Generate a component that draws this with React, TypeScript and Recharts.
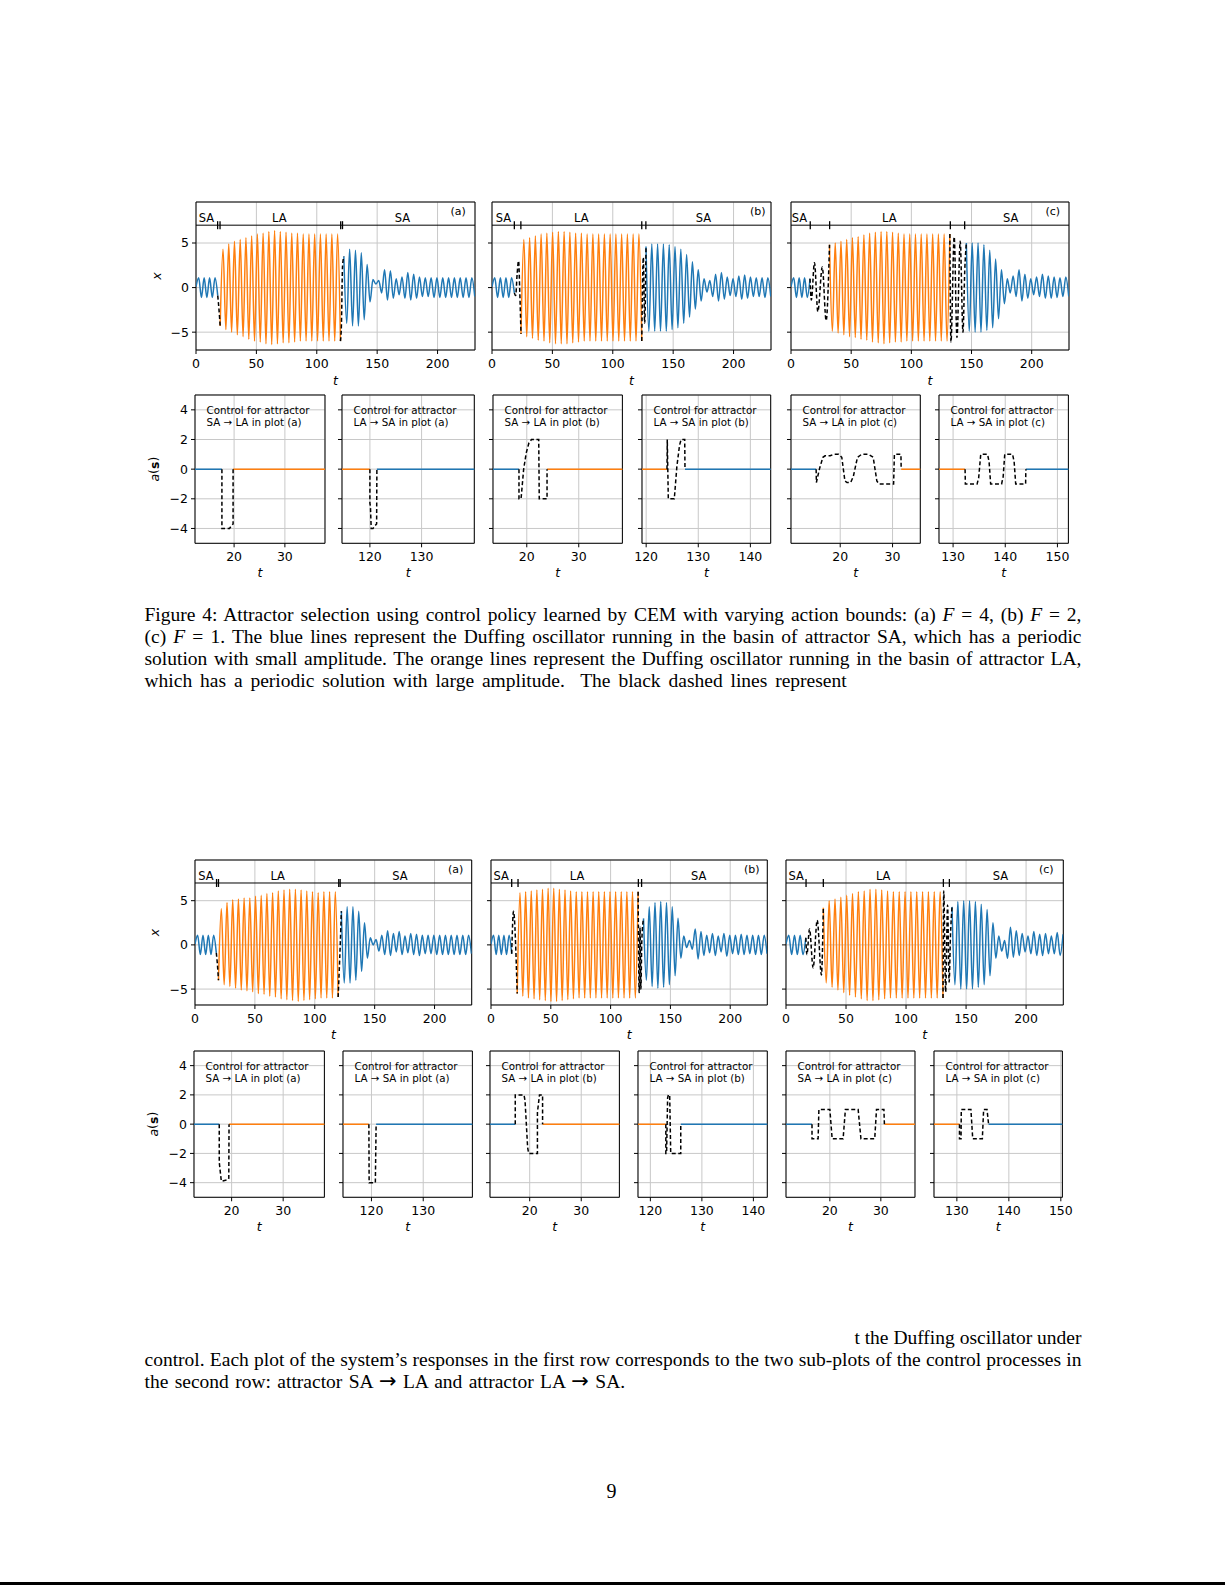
import React from "react";
import { LineChart, Line, XAxis, YAxis, CartesianGrid, ReferenceLine, ReferenceArea, ReferenceDot } from "recharts";

const BLUE = "#1f77b4";
const ORANGE = "#ff7f0e";
const GRID = "#c8c8c8";
const SANS = "DejaVu Sans, Verdana, sans-serif";
const SERIF = "Liberation Serif, Times New Roman, serif";

// ticks
const tTicks = [0, 50, 100, 150, 200];
const xTicks = [-5, 0, 5];
const aTicks = [-4, -2, 0, 2, 4];

// ---------- upper figure, response plots ----------
// span: blue start/end, orange start/end, blue start/end (time)
const f1aSpan = [0, 18.0, 20.0, 119.6, 122.4, 230.8];
const f1aBlue1 = [0.1, 1.1, -1.1, 1.1, -1.1, 1.1, -1.1, 1.1, -0.9];
const f1aD1t = [19.0];
const f1aD1x = [-2.4];
const f1aOrange = [-4.3, 4.3, -4.7, 4.9, -5.0, 5.2, -5.3, 5.4, -5.5, 5.6, -5.8, 5.8, -6.0, 6.0, -6.1, 6.1, -6.3, 6.3, -6.4, 6.4, -6.3, 6.3, -6.2, 6.2, -6.2, 6.1, -6.1, 6.1, -6.0, 6.0, -6.0, 6.0, -6.0, 6.0, -6.0, 6.0, -6.0, 6.0, -6.0, 6.0, -6.0, 6.0, -6.0];
const f1aD2t = [120.4, 121.3];
const f1aD2x = [-4.2, 2.3];
const f1aBlue2 = [3.5, -4.0, 4.3, -4.3, 4.2, -4.3, 3.9, -3.6, 2.6, -1.6, 0.9, 0.4, 0.8, -0.6, 2.0, -1.4, 1.9, -1.2, 1.0, -0.8, 1.2, -1.2, 1.7, -1.4, 1.5, -1.2, 1.2, -1.0, 1.1, -1.0, 1.1, -1.1, 1.1, -1.1, 1.1, -1.1, 1.1, -1.1, 1.1, -1.1, 1.1, -1.1, 1.1, -1.1, 1.1, -1.0];
const f1aMarks = [17.9, 19.9, 119.8, 121.3];
const f1aLabels = [8.7, 69, 171, 217];

const f1bSpan = [0, 18.5, 24.0, 124.0, 127.5, 230.8];
const f1bBlue1 = [0.1, 1.1, -1.1, 1.1, -1.1, 1.1, -1.1, 1.1, -0.6];
const f1bD1t = [19.6, 20.8, 22.0, 23.0];
const f1bD1x = [-0.9, 1.5, 3.0, -0.5];
const f1bOrange = [-5.2, 5.4, -5.5, 5.6, -5.7, 5.8, -5.9, 6.0, -6.0, 6.1, -6.2, 6.2, -6.3, 6.3, -6.3, 6.3, -6.3, 6.2, -6.2, 6.1, -6.1, 6.1, -6.0, 6.0, -6.0, 6.0, -6.0, 6.0, -6.0, 6.0, -6.0, 6.0, -6.0, 6.0, -6.0, 6.0, -6.0, 6.0, -6.0, 6.0, -6.0, 6.0, -6.0];
const f1bD2t = [125.3, 126.4];
const f1bD2x = [3.4, -4.0];
const f1bBlue2 = [4.6, -4.9, 4.9, -4.9, 4.9, -4.9, 4.9, -4.9, 4.8, -4.7, 4.6, -4.5, 4.3, -4.0, 3.7, -3.3, 2.9, -2.4, 2.0, -1.5, 1.0, -0.5, 0.8, -1.0, 1.5, -1.5, 1.7, -1.3, 1.2, -0.9, 1.0, -1.0, 1.3, -1.3, 1.4, -1.2, 1.2, -1.0, 1.1, -1.0, 1.1, -1.1, 1.1, -1.0];
const f1bMarks = [18.5, 23.9, 124.0, 127.4];
const f1bLabels = [9.4, 74, 175, 220];

const f1cSpan = [0, 15.8, 32.0, 132.0, 145.7, 230.8];
const f1cBlue1 = [0.1, 1.1, -1.1, 1.1, -1.1, 1.1, -1.1, 1.0];
const f1cD1t = [16.9, 19.5, 22.3, 26.0, 29.2];
const f1cD1x = [-1.4, 2.8, -2.7, 2.3, -3.7];
const f1cOrange = [4.8, -4.9, 5.0, -5.1, 5.2, -5.3, 5.4, -5.5, 5.6, -5.6, 5.7, -5.8, 5.9, -5.9, 6.1, -6.1, 6.2, -6.2, 6.3, -6.3, 6.3, -6.2, 6.2, -6.1, 6.1, -6.1, 6.0, -6.0, 6.0, -6.0, 6.0, -6.0, 6.0, -6.0, 6.0, -6.0, 6.0, -6.0, 6.0, -6.0, 6.0, -6.0, 6.0];
const f1cD2t = [132.9, 135.6, 137.9, 140.6, 142.9, 144.4];
const f1cD2x = [-6.1, 5.7, -5.6, 5.2, -5.0, 2.0];
const f1cBlue2 = [5.0, -4.9, 5.0, -5.0, 5.0, -5.0, 4.8, -4.8, 4.2, -4.5, 3.2, -3.5, 2.0, -1.8, 1.0, -0.6, 1.3, -1.0, 2.0, -1.5, 1.5, -1.2, 1.0, -0.8, 1.2, -1.0, 1.5, -1.2, 1.3, -1.2, 1.2, -1.1, 1.1, -1.0, 1.2, -1.0];
const f1cMarks = [16.0, 32.1, 132.4, 144.3];
const f1cLabels = [7, 81.7, 182.6, 217.5];

// ---------- lower figure, response plots ----------
const f2aSpan = [0, 17.8, 19.6, 119.5, 122.2, 230.8];
const f2aBlue1 = [0.1, 1.1, -1.1, 1.1, -1.1, 1.1, -1.1, 1.1, -0.9];
const f2aD1t = [18.7];
const f2aD1x = [-2.2];
const f2aOrange = [-4.0, 4.1, -4.5, 4.8, -4.7, 5.1, -4.9, 5.2, -5.1, 5.3, -5.2, 5.3, -5.3, 5.5, -5.5, 5.6, -5.6, 5.8, -5.8, 5.9, -5.9, 6.1, -6.1, 6.2, -6.2, 6.3, -6.3, 6.3, -6.4, 6.2, -6.3, 6.1, -6.2, 6.0, -6.1, 5.9, -6.0, 6.0, -6.0, 6.0, -6.0, 6.0, -5.9];
const f2aD2t = [120.4, 121.3];
const f2aD2x = [-3.0, 0.2];
const f2aBlue2 = [3.8, -4.3, 4.3, -4.3, 4.3, -4.0, 3.8, -3.0, 2.5, -1.5, 0.8, 0.0, 0.6, -0.7, 1.1, -1.1, 1.6, -1.2, 1.3, -0.8, 1.5, -1.1, 1.0, -0.9, 1.3, -1.1, 1.2, -1.2, 1.1, -1.0, 1.1, -1.0, 1.1, -1.1, 1.1, -1.1, 1.1, -1.1, 1.1, -1.1, 1.1, -1.1, 1.1, -1.1, 1.1, -1.0];
const f2aMarks = [18.0, 19.6, 120.0, 121.2];
const f2aLabels = [9.2, 69, 171, 217.6];

const f2bSpan = [0, 17.3, 21.9, 123.0, 127.5, 230.8];
const f2bBlue1 = [0.1, 1.1, -1.1, 1.1, -1.1, 1.1, -1.1, 1.1, -1.0];
const f2bD1t = [18.8];
const f2bD1x = [3.8];
const f2bOrange = [-5.5, 5.9, -5.8, 6.0, -6.0, 6.1, -6.1, 6.2, -6.2, 6.3, -6.3, 6.4, -6.4, 6.4, -6.4, 6.3, -6.3, 6.2, -6.2, 6.1, -6.1, 6.0, -6.0, 6.0, -6.0, 6.0, -6.0, 6.0, -6.0, 6.0, -6.0, 6.0, -6.0, 6.0, -6.0, 6.0, -6.0, 6.0, -6.0, 6.0, -6.0, 6.0, -6.0, 6.0];
const f2bD2t = [123.9, 124.6, 125.3, 126.1];
const f2bD2x = [-5.4, 2.0, -5.0, 0.5];
const f2bBlue2 = [3.0, -4.0, 4.3, -4.7, 4.8, -4.9, 4.9, -4.8, 4.8, -4.5, 4.3, -3.5, 3.0, -1.5, 1.0, -0.3, 0.5, -0.5, 1.8, -1.6, 1.5, -1.2, 1.1, -0.9, 1.3, -1.2, 1.0, -0.8, 1.3, -1.3, 1.1, -1.0, 1.1, -1.1, 1.2, -1.1, 1.1, -1.0, 1.1, -1.1, 1.1, -1.1, 1.1, -1.0];
const f2bMarks = [17.3, 22.6, 123.2, 125.9];
const f2bLabels = [8.6, 72, 173.6, 218];

const f2cSpan = [0, 16.5, 31.1, 130.8, 138.3, 230.8];
const f2cBlue1 = [0.1, 1.1, -1.1, 1.1, -1.1, 1.1, -1.1, 0.8];
const f2cD1t = [17.4, 19.6, 22.6, 26.0, 29.5];
const f2cD1x = [-1.1, 1.8, -2.6, 2.8, -3.4];
const f2cOrange = [4.2, -4.3, 5.0, -4.8, 5.2, -5.1, 5.4, -5.4, 5.6, -5.7, 5.8, -5.9, 6.0, -6.1, 6.1, -6.3, 6.3, -6.3, 6.3, -6.2, 6.2, -6.1, 6.1, -6.0, 6.0, -6.0, 6.0, -6.0, 6.0, -6.0, 6.0, -6.0, 6.0, -6.0, 6.0, -6.0, 6.0, -6.0, 6.0, -6.0, 6.0, -6.0];
const f2cD2t = [131.4, 133.0, 134.6, 135.9, 137.0];
const f2cD2x = [6.1, -5.3, 4.5, -4.2, 1.0];
const f2cBlue2 = [4.3, -4.5, 4.9, -5.0, 5.0, -5.0, 5.0, -5.0, 4.9, -4.8, 4.6, -4.5, 4.0, -3.5, 2.5, -1.5, 1.0, -0.7, 0.5, -1.5, 2.0, -1.4, 1.6, -1.2, 1.3, -0.8, 1.0, -1.0, 1.5, -1.2, 1.2, -1.2, 1.3, -1.0, 1.0, -1.0, 1.4, -1.2, 1.2];
const f2cMarks = [16.7, 31.1, 131.1, 136.1];
const f2cLabels = [8.5, 81, 178.6, 216.8];

// ---------- control plots: time, action ----------
const c1a1T = [17.6, 17.6, 19.1, 19.5, 19.8, 19.8];
const c1a1A = [0, -4, -4, -3.8, -3.7, 0];
const c1a2T = [120.0, 120.0, 120.1, 120.25, 120.6, 121.0, 121.3, 121.35];
const c1a2A = [0, -2.3, -2.5, -4.0, -4.0, -3.8, -3.7, 0];
const c1b1T = [18.5, 18.5, 18.9, 19.4, 19.9, 20.4, 20.9, 22.3, 22.4, 23.9, 23.9];
const c1b1A = [0, -2, -2, 0, 1.1, 1.75, 2, 2, -2, -2, 0];
const c1b2T = [124.0, 124.05, 124.25, 125.4, 125.9, 126.4, 126.7, 127.4, 127.45];
const c1b2A = [0, 2, -2, -2, 0.2, 1.6, 2, 2, 0];
const c1c1T = [15.4, 15.45, 15.7, 16.1, 16.7, 17.1, 18.1, 18.7, 19.7, 20.3, 20.9, 21.3, 22.0, 22.5, 23.3, 24.1, 25.4, 26.3, 27.0, 27.4, 30.2, 30.35, 31.6, 31.65];
const c1c1A = [0, -0.9, -0.5, 0.1, 0.8, 0.9, 0.9, 1.0, 1.0, 0.8, -0.8, -0.9, -0.9, -0.5, 0.8, 1.0, 1.0, 0.8, -0.8, -1.0, -1.0, 1.0, 1.0, 0];
const c1c2T = [132.3, 132.35, 134.6, 134.9, 135.3, 136.6, 136.9, 137.2, 139.3, 139.6, 139.9, 141.4, 141.7, 142.0, 143.9, 143.95];
const c1c2A = [0, -1, -1, -0.6, 1, 1, 0.5, -1, -1, -0.5, 1, 1, 0.5, -1, -1, 0];

const c2a1T = [17.6, 17.6, 18.0, 19.3, 19.45, 19.5];
const c2a1A = [0, -2.6, -3.9, -3.8, -3.7, 0];
const c2a2T = [119.5, 119.55, 120.75, 120.9];
const c2a2A = [0, -4, -4, 0];
const c2b1T = [17.2, 17.2, 18.9, 19.1, 19.6, 19.8, 21.5, 21.5, 21.9, 22.5, 22.5];
const c2b1A = [0, 2, 2, 1.6, -1.6, -2, -2, 0.8, 2, 2, 0];
const c2b2T = [123.0, 123.0, 123.15, 123.35, 123.5, 123.75, 123.95, 125.9, 125.9];
const c2b2A = [0, -2, -2, 1.8, 2, 2, -2, -2, 0];
const c2c1T = [16.5, 16.5, 17.7, 17.85, 20.0, 20.45, 22.6, 23.05, 25.55, 26.1, 28.8, 29.15, 30.6, 30.7];
const c2c1A = [0, -1, -1, 1, 1, -1, -1, 1, 1, -1, -1, 1, 1, 0];
const c2c2T = [130.5, 130.5, 130.8, 130.85, 132.7, 133.05, 134.9, 135.15, 135.8, 136.1];
const c2c2A = [0, -1, -1, 1, 1, -1, -1, 1, 1, 0];

type Pt = { t: number; v: number };
const wave = (t0: number, t1: number, vals: number[]): Pt[] => {
  const step = (t1 - t0) / (vals.length - 1);
  return vals.map((v, i) => ({ t: t0 + i * step, v }));
};
const pts = (t: number[], v: number[]): Pt[] => t.map((tt, i) => ({ t: tt, v: v[i] }));
const fmt = (v: number) => (v < 0 ? "\u2212" + Math.abs(v) : String(v));
const blank = () => "";

const YW = 60;
const MT = 6;
const MR = 14;
const XH = 40;
const tickStyle = { fontSize: 12.5, fill: "#000", fontFamily: SANS };

function Resp({ box, yDom, p, showY }: any) {
  const [a0, a1, b0, b1, c0, c1] = p.span;
  const blue1 = wave(a0, a1, p.blue1);
  const orange = wave(b0, b1, p.orange);
  const blue2 = wave(c0, c1, p.blue2);
  const dash1 = [blue1[blue1.length - 1], ...pts(p.d1t, p.d1x), orange[0]];
  const dash2 = [orange[orange.length - 1], ...pts(p.d2t, p.d2x), blue2[0]];
  const series = [
    { id: "b1", data: blue1, color: BLUE, dash: false },
    { id: "or", data: orange, color: ORANGE, dash: false },
    { id: "b2", data: blue2, color: BLUE, dash: false },
    { id: "d1", data: dash1, color: "#000", dash: true },
    { id: "d2", data: dash2, color: "#000", dash: true },
  ];
  const names = ["SA", "LA", "SA"];
  const mid = (yDom[0] + yDom[1]) / 2;
  return (
    <div style={{ position: "absolute", left: box.left - YW, top: box.top - MT }}>
      <LineChart width={YW + box.width + MR} height={MT + box.height + XH} margin={{ top: MT, right: MR, bottom: 0, left: 0 }}>
        <CartesianGrid stroke={GRID} strokeWidth={1} />
        <XAxis type="number" dataKey="t" domain={[0, 231]} ticks={tTicks} allowDataOverflow interval={0} height={XH}
          axisLine={false} tickLine={{ stroke: "#000" }} tickSize={4} tickMargin={5} tick={tickStyle} />
        <YAxis type="number" domain={yDom} ticks={xTicks} allowDataOverflow interval={0} width={YW}
          axisLine={false} tickLine={{ stroke: "#000" }} tickSize={4} tickMargin={3} tick={tickStyle} tickFormatter={showY ? fmt : blank} />
        {series.map((s) => (
          <Line key={s.id} data={s.data} dataKey="v" type="monotone" stroke={s.color} strokeWidth={1.5}
            strokeDasharray={s.dash ? "4 2.5" : undefined} dot={false} activeDot={false} isAnimationActive={false} />
        ))}
        <ReferenceLine y={7} stroke="#000" strokeWidth={1} />
        {p.marks.map((m: number) => (
          <ReferenceLine key={"m" + m} segment={[{ x: m, y: 6.55 }, { x: m, y: 7.45 }]} stroke="#000" strokeWidth={1.3} />
        ))}
        {names.map((n, i) => (
          <ReferenceDot key={"n" + i} x={p.labels[i]} y={yDom[1]} r={0} ifOverflow="visible"
            shape={(s: any) => (
              <text x={s.cx} y={s.cy + 16} textAnchor="middle" dominantBaseline="central" fontSize={11.5} fontFamily={SANS}>{n}</text>
            )} />
        ))}
        <ReferenceDot x={p.labels[3]} y={yDom[1]} r={0} ifOverflow="visible"
          shape={(s: any) => (
            <text x={s.cx} y={s.cy + 9.5} textAnchor="middle" dominantBaseline="central" fontSize={11} fontFamily={SANS}>({p.tag})</text>
          )} />
        <ReferenceDot x={115.5} y={yDom[0]} r={0} ifOverflow="visible"
          shape={(s: any) => (
            <text x={s.cx} y={s.cy + 30} textAnchor="middle" dominantBaseline="central" fontSize={12.5} fontStyle="italic" fontFamily={SANS}>t</text>
          )} />
        {showY && (
          <ReferenceDot x={0} y={mid} r={0} ifOverflow="visible"
            shape={(s: any) => (
              <text x={s.cx - 40} y={s.cy} transform={`rotate(-90 ${s.cx - 40} ${s.cy})`} textAnchor="middle" dominantBaseline="central"
                fontSize={12.5} fontStyle="italic" fontFamily={SANS}>x</text>
            )} />
        )}
        <ReferenceArea x1={0} x2={231} y1={yDom[0]} y2={yDom[1]} fill="none" stroke="#000" strokeWidth={1} ifOverflow="visible" />
      </LineChart>
    </div>
  );
}

function Ctrl({ box, c, showY }: any) {
  const dash = pts(c.t, c.a);
  const start = c.t[0];
  const end = c.t[c.t.length - 1];
  const before = [{ t: c.dom[0] - 5, v: 0 }, { t: start, v: 0 }];
  const after = [{ t: end, v: 0 }, { t: c.dom[1] + 5, v: 0 }];
  const up = c.from === "SA";
  const to = up ? "LA" : "SA";
  return (
    <div style={{ position: "absolute", left: box.left - YW, top: box.top - MT }}>
      <LineChart width={YW + box.width + MR} height={MT + box.height + XH} margin={{ top: MT, right: MR, bottom: 0, left: 0 }}>
        <CartesianGrid stroke={GRID} strokeWidth={1} />
        <XAxis type="number" dataKey="t" domain={c.dom} ticks={c.ticks} allowDataOverflow interval={0} height={XH}
          axisLine={false} tickLine={{ stroke: "#000" }} tickSize={4} tickMargin={5} tick={tickStyle} />
        <YAxis type="number" domain={[-5, 5]} ticks={aTicks} allowDataOverflow interval={0} width={YW}
          axisLine={false} tickLine={{ stroke: "#000" }} tickSize={4} tickMargin={3} tick={tickStyle} tickFormatter={showY ? fmt : blank} />
        <Line data={before} dataKey="v" type="linear" stroke={up ? BLUE : ORANGE} strokeWidth={1.5} dot={false} activeDot={false} isAnimationActive={false} />
        <Line data={after} dataKey="v" type="linear" stroke={up ? ORANGE : BLUE} strokeWidth={1.5} dot={false} activeDot={false} isAnimationActive={false} />
        <Line data={dash} dataKey="v" type="linear" stroke="#000" strokeWidth={1.5} strokeDasharray="4 2.5" dot={false} activeDot={false} isAnimationActive={false} />
        <ReferenceDot x={c.dom[0]} y={5} r={0} ifOverflow="visible"
          shape={(s: any) => (
            <text x={s.cx + 11.5} y={s.cy + 19.3} fontSize={10.3} fontFamily={SANS}>
              <tspan x={s.cx + 11.5}>Control for attractor</tspan>
              <tspan x={s.cx + 11.5} dy={12}>{`${c.from} \u2192 ${to} in plot (${c.tag})`}</tspan>
            </text>
          )} />
        <ReferenceDot x={(c.dom[0] + c.dom[1]) / 2} y={-5} r={0} ifOverflow="visible"
          shape={(s: any) => (
            <text x={s.cx} y={s.cy + 29} textAnchor="middle" dominantBaseline="central" fontSize={12.5} fontStyle="italic" fontFamily={SANS}>t</text>
          )} />
        {showY && (
          <ReferenceDot x={c.dom[0]} y={0} r={0} ifOverflow="visible"
            shape={(s: any) => (
              <text x={s.cx - 41} y={s.cy} transform={`rotate(-90 ${s.cx - 41} ${s.cy})`} textAnchor="middle" dominantBaseline="central"
                fontSize={12.5} fontFamily={SANS}>
                <tspan fontStyle="italic">a</tspan>(<tspan fontWeight="bold">s</tspan>)
              </text>
            )} />
        )}
        <ReferenceArea x1={c.dom[0]} x2={c.dom[1]} y1={-5} y2={5} fill="none" stroke="#000" strokeWidth={1} ifOverflow="visible" />
      </LineChart>
    </div>
  );
}

const mk = (span: number[], blue1: number[], d1t: number[], d1x: number[], orange: number[], d2t: number[], d2x: number[], blue2: number[], marks: number[], labels: number[], tag: string) =>
  ({ span, blue1, d1t, d1x, orange, d2t, d2x, blue2, marks, labels, tag });

const fig1Top = [
  { box: { left: 195.5, top: 202, width: 279, height: 148 }, p: mk(f1aSpan, f1aBlue1, f1aD1t, f1aD1x, f1aOrange, f1aD2t, f1aD2x, f1aBlue2, f1aMarks, f1aLabels, "a"), showY: true },
  { box: { left: 492, top: 202, width: 279, height: 148 }, p: mk(f1bSpan, f1bBlue1, f1bD1t, f1bD1x, f1bOrange, f1bD2t, f1bD2x, f1bBlue2, f1bMarks, f1bLabels, "b"), showY: false },
  { box: { left: 790.5, top: 202, width: 278, height: 148 }, p: mk(f1cSpan, f1cBlue1, f1cD1t, f1cD1x, f1cOrange, f1cD2t, f1cD2x, f1cBlue2, f1cMarks, f1cLabels, "c"), showY: false },
];
const fig2Top = [
  { box: { left: 195, top: 860, width: 276.7, height: 145 }, p: mk(f2aSpan, f2aBlue1, f2aD1t, f2aD1x, f2aOrange, f2aD2t, f2aD2x, f2aBlue2, f2aMarks, f2aLabels, "a"), showY: true },
  { box: { left: 491, top: 860, width: 276.3, height: 145 }, p: mk(f2bSpan, f2bBlue1, f2bD1t, f2bD1x, f2bOrange, f2bD2t, f2bD2x, f2bBlue2, f2bMarks, f2bLabels, "b"), showY: false },
  { box: { left: 786, top: 860, width: 277.3, height: 145 }, p: mk(f2cSpan, f2cBlue1, f2cD1t, f2cD1x, f2cOrange, f2cD2t, f2cD2x, f2cBlue2, f2cMarks, f2cLabels, "c"), showY: false },
];

const fig1Ctrl = [
  { box: { left: 195, top: 395, width: 130, height: 148.3 }, c: { dom: [12.3, 37.9], ticks: [20, 30], t: c1a1T, a: c1a1A, from: "SA", tag: "a" }, showY: true },
  { box: { left: 342, top: 395, width: 132.3, height: 148.3 }, c: { dom: [114.6, 140.2], ticks: [120, 130], t: c1a2T, a: c1a2A, from: "LA", tag: "a" } },
  { box: { left: 493.3, top: 395, width: 129.4, height: 148.3 }, c: { dom: [13.5, 38.4], ticks: [20, 30], t: c1b1T, a: c1b1A, from: "SA", tag: "b" } },
  { box: { left: 642.3, top: 395, width: 128.7, height: 148.3 }, c: { dom: [119.2, 143.9], ticks: [120, 130, 140], t: c1b2T, a: c1b2A, from: "LA", tag: "b" } },
  { box: { left: 790.7, top: 395, width: 129.3, height: 148.3 }, c: { dom: [10.6, 35.3], ticks: [20, 30], t: c1c1T, a: c1c1A, from: "SA", tag: "c" } },
  { box: { left: 939.3, top: 395, width: 129.4, height: 148.3 }, c: { dom: [127.3, 152.1], ticks: [130, 140, 150], t: c1c2T, a: c1c2A, from: "LA", tag: "c" } },
];
const fig2Ctrl = [
  { box: { left: 194, top: 1051, width: 130.4, height: 146.3 }, c: { dom: [12.7, 38.0], ticks: [20, 30], t: c2a1T, a: c2a1A, from: "SA", tag: "a" }, showY: true },
  { box: { left: 342.6, top: 1051, width: 129.4, height: 146.3 }, c: { dom: [114.5, 139.5], ticks: [120, 130], t: c2a2T, a: c2a2A, from: "LA", tag: "a" } },
  { box: { left: 490.2, top: 1051, width: 129.4, height: 146.3 }, c: { dom: [12.3, 37.4], ticks: [20, 30], t: c2b1T, a: c2b1A, from: "SA", tag: "b" } },
  { box: { left: 637.8, top: 1051, width: 129.3, height: 146.3 }, c: { dom: [117.6, 142.7], ticks: [120, 130, 140], t: c2b2T, a: c2b2A, from: "LA", tag: "b" } },
  { box: { left: 786, top: 1051, width: 129, height: 146.3 }, c: { dom: [11.4, 36.7], ticks: [20, 30], t: c2c1T, a: c2c1A, from: "SA", tag: "c" } },
  { box: { left: 934.3, top: 1051, width: 128.4, height: 146.3 }, c: { dom: [125.6, 150.3], ticks: [130, 140, 150], t: c2c2T, a: c2c2A, from: "LA", tag: "c" } },
];

const capBase: React.CSSProperties = {
  position: "absolute", left: 144.5, width: 937, height: 22, lineHeight: "22px",
  fontFamily: SERIF, fontSize: 19.5, color: "#000", whiteSpace: "nowrap",
};

function Cap({ top, align, ws, children }: any) {
  return <div style={{ ...capBase, top, textAlign: align, textAlignLast: align, wordSpacing: ws ?? 0 } as any}>{children}</div>;
}

const arrow = <span style={{ fontFamily: SANS, fontSize: 21 }}>{"\u2192"}</span>;

export default function App() {
  return (
    <div style={{ position: "absolute", left: 0, top: 0, width: 1225, height: 1585, background: "#fff", overflow: "hidden" }}>
      {fig1Top.map((f, i) => <Resp key={"t1" + i} box={f.box} yDom={[-7, 9.6]} p={f.p} showY={f.showY} />)}
      {fig1Ctrl.map((f: any, i) => <Ctrl key={"c1" + i} box={f.box} c={f.c} showY={!!f.showY} />)}
      {fig2Top.map((f, i) => <Resp key={"t2" + i} box={f.box} yDom={[-6.8, 9.6]} p={f.p} showY={f.showY} />)}
      {fig2Ctrl.map((f: any, i) => <Ctrl key={"c2" + i} box={f.box} c={f.c} showY={!!f.showY} />)}

      <Cap top={604.4} align="justify">Figure 4: Attractor selection using control policy learned by CEM with varying action bounds: (a) <i>F</i> = 4, (b) <i>F</i> = 2,</Cap>
      <Cap top={626.2} align="justify">(c) <i>F</i> = 1. The blue lines represent the Duffing oscillator running in the basin of attractor SA, which has a periodic</Cap>
      <Cap top={648} align="justify">solution with small amplitude. The orange lines represent the Duffing oscillator running in the basin of attractor LA,</Cap>
      <Cap top={669.8} align="left" ws={3}>which has a periodic solution with large amplitude.&nbsp; The black dashed lines represent</Cap>

      <Cap top={1327} align="right">t the Duffing oscillator under</Cap>
      <Cap top={1348.7} align="justify">control. Each plot of the system’s responses in the first row corresponds to the two sub-plots of the control processes in</Cap>
      <Cap top={1370.4} align="left" ws={1.5}>the second row: attractor SA {arrow} LA and attractor LA {arrow} SA.</Cap>

      <div style={{ position: "absolute", left: 591.5, top: 1479, width: 40, textAlign: "center", fontFamily: SERIF, fontSize: 20, lineHeight: "24px" }}>9</div>
      <div style={{ position: "absolute", left: 0, top: 1582, width: 1225, height: 3, background: "#000" }} />
    </div>
  );
}
